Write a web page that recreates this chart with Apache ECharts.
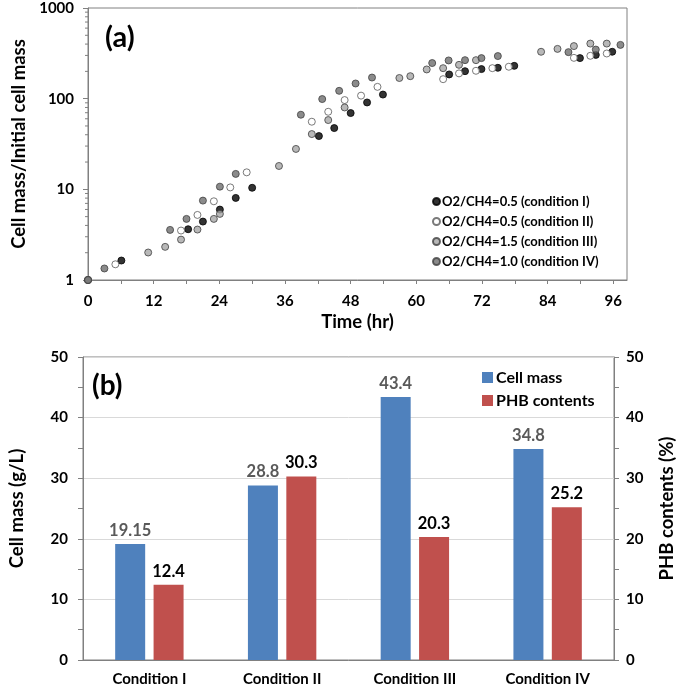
<!DOCTYPE html>
<html>
<head>
<meta charset="utf-8">
<script src="https://cdn.jsdelivr.net/npm/echarts@6/dist/echarts.min.js"></script>
<style>html,body{margin:0;padding:0;background:#fff}#c{width:685px;height:691px}</style>
</head>
<body>
<div id="c"></div>
<script>
// ---- (a) growth data: [time (hr), cell mass / initial cell mass] ----
const condI = [[0,1],[6.1,1.64],[18.3,3.63],[21.0,4.41],[24.1,5.98],[27.0,8.04],[30.0,10.4],[42.2,38.7],[45.0,47.4],[48.0,69.4],[51.0,90.8],[53.9,111],[66.0,185],[68.9,201],[71.9,212],[74.9,219],[77.9,230],[89.9,280],[92.8,304],[95.8,329]];
const condII = [[0,1],[5.0,1.49],[17.0,3.51],[20.0,5.22],[23.0,7.38],[26.0,10.5],[29.0,15.4],[40.9,55.7],[43.9,71.7],[46.9,96.5],[49.9,108],[52.9,135],[64.9,164],[67.8,190],[70.9,203],[73.9,217],[76.9,225],[88.8,282],[91.8,297],[94.8,315]];
const condIII = [[0,1],[11.0,2.01],[14.1,2.32],[17.0,2.79],[20.0,3.60],[23.0,4.72],[24.1,5.36],[34.9,18.1],[38.0,27.9],[40.9,40.7],[43.9,58.1],[46.9,80.0],[56.9,169],[58.9,177],[61.9,210],[64.9,217],[67.8,236],[70.9,266],[82.8,329],[85.8,354],[88.8,380],[91.8,405],[94.8,405]];
const condIV = [[0,1],[3.0,1.34],[15.0,3.57],[18.0,4.72],[21.0,7.51],[24.1,10.7],[27.0,14.8],[38.9,66.5],[42.8,99.0],[45.9,122],[48.9,147],[51.9,171],[62.9,247],[65.9,264],[68.9,266],[71.9,280],[74.9,295],[87.8,326],[92.8,348],[97.3,392]];
const seriesNamesA = ['O2/CH4=0.5 (condition I)','O2/CH4=0.5 (condition II)','O2/CH4=1.5 (condition III)','O2/CH4=1.0 (condition IV)'];
const logMinorTicks = [2,3,4,5,6,7,8,9,20,30,40,50,60,70,80,90,200,300,400,500,600,700,800,900];

// ---- (b) bar data ----
const conditions = ['Condition I','Condition II','Condition III','Condition IV'];
const cellMass = [19.15, 28.8, 43.4, 34.8];
const phbContents = [12.4, 30.3, 20.3, 25.2];

const FONT = 'Lato';
const AXC = '#808080';

const chart = echarts.init(document.getElementById('c'), null, {renderer:'canvas'});

function scatterSeries(name, data, color, border) {
  return {
    name, type:'scatter', data, xAxisIndex:0, yAxisIndex:0,
    symbol:'circle', symbolSize:7, clip:false,
    itemStyle:{color, borderColor:border, borderWidth:1},
    emphasis:{disabled:true}
  };
}

const tickFont = {fontFamily:FONT, fontSize:15, fontWeight:'bold', color:'#000'};
const nameFont = {fontFamily:FONT, fontSize:18.5, fontWeight:'bold', color:'#000'};

chart.setOption({
  animation:false,
  textStyle:{fontFamily:FONT},
  title:[
    {text:'(a)', left:100, top:18, textStyle:{fontFamily:FONT, fontSize:29, fontWeight:'bold', color:'#000'}},
    {text:'(b)', left:87, top:367, textStyle:{fontFamily:FONT, fontSize:28, fontWeight:'bold', color:'#000'}}
  ],
  legend:[
    {
      data:seriesNamesA, orient:'vertical', left:427, top:189,
      itemWidth:7, itemHeight:7, itemGap:5, icon:'circle',
      textStyle:{fontFamily:FONT, fontSize:13, fontWeight:'bold', color:'#000', lineHeight:15, padding:[0,0,0,-3]}
    },
    {
      data:['Cell mass','PHB contents'], orient:'vertical', left:477, top:364,
      itemWidth:11, itemHeight:11, itemGap:6, icon:'rect',
      textStyle:{fontFamily:FONT, fontSize:16, fontWeight:'bold', color:'#000', lineHeight:17, padding:[0,0,0,-2]}
    }
  ],
  grid:[
    {left:88, top:8, width:539, height:272, show:true, borderColor:AXC, borderWidth:1},
    {left:77, top:357, width:544, height:303, show:true, borderColor:AXC, borderWidth:1}
  ],
  xAxis:[
    {
      gridIndex:0, type:'value', min:0, max:98.5, interval:6,
      axisLine:{show:true, lineStyle:{color:AXC}},
      axisTick:{show:true, length:4, lineStyle:{color:AXC}},
      splitLine:{show:false},
      axisLabel:Object.assign({margin:14, showMaxLabel:false,
        formatter:v => (Math.abs(v % 12) < 1e-6 ? String(v) : '')}, tickFont),
      name:'Time (hr)', nameLocation:'middle', nameGap:33,
      nameTextStyle:nameFont
    },
    {
      gridIndex:1, type:'category', data:conditions,
      axisLine:{show:true, lineStyle:{color:AXC}},
      axisTick:{show:false},
      axisLabel:Object.assign({margin:12}, tickFont)
    }
  ],
  yAxis:[
    {
      gridIndex:0, type:'log', logBase:10, min:1, max:1000,
      axisLine:{show:true, lineStyle:{color:AXC}},
      axisTick:{show:true, length:5, lineStyle:{color:AXC}},
      splitLine:{show:false},
      axisLabel:Object.assign({margin:14, formatter:v => String(Math.round(v))}, tickFont),
      name:'Cell mass/Initial cell mass', nameLocation:'middle', nameGap:46,
      nameTextStyle:nameFont
    },
    {
      gridIndex:1, type:'value', min:0, max:50, interval:10, position:'left',
      axisLine:{show:true, lineStyle:{color:AXC}},
      axisTick:{show:true, length:5, lineStyle:{color:AXC}},
      minorTick:{show:true, splitNumber:2, length:5, lineStyle:{color:AXC}},
      splitLine:{show:true, lineStyle:{color:'#D9D9D9'}},
      axisLabel:Object.assign({margin:15}, tickFont),
      name:'Cell mass (g/L)', nameLocation:'middle', nameGap:56,
      nameTextStyle:nameFont
    },
    {
      gridIndex:1, type:'value', min:0, max:50, interval:10, position:'right',
      axisLine:{show:true, lineStyle:{color:AXC}},
      axisTick:{show:true, length:5, lineStyle:{color:AXC}},
      minorTick:{show:true, splitNumber:2, length:5, lineStyle:{color:AXC}},
      splitLine:{show:false},
      axisLabel:Object.assign({margin:12}, tickFont),
      name:'PHB contents (%)', nameLocation:'middle', nameGap:44,
      nameTextStyle:nameFont
    }
  ],
  series:[
    {
      type:'custom', xAxisIndex:0, yAxisIndex:0, silent:true, clip:false,
      data: logMinorTicks.map(v => [0, v]),
      renderItem:(params, api) => {
        const p = api.coord([0, api.value(1)]);
        return {type:'line', shape:{x1:p[0]-3, y1:p[1], x2:p[0]+1, y2:p[1]}, style:{stroke:AXC, lineWidth:1}};
      }
    },
    scatterSeries(seriesNamesA[0], condI, '#000000', '#000000'),
    scatterSeries(seriesNamesA[1], condII, '#FFFFFF', '#595959'),
    scatterSeries(seriesNamesA[2], condIII, '#A6A6A6', '#404040'),
    scatterSeries(seriesNamesA[3], condIV, '#6E6E6E', '#404040'),
    {
      name:'Cell mass', type:'bar', xAxisIndex:1, yAxisIndex:1, data:cellMass,
      barWidth:30, barGap:'28%',
      itemStyle:{color:'#4F81BD'},
      label:{show:true, position:'top', distance:5, fontFamily:FONT, fontSize:16.5, fontWeight:'bold', color:'#595959'}
    },
    {
      name:'PHB contents', type:'bar', xAxisIndex:1, yAxisIndex:2, data:phbContents,
      barWidth:30,
      itemStyle:{color:'#C0504D'},
      label:{show:true, position:'top', distance:5, fontFamily:FONT, fontSize:16.5, fontWeight:'bold', color:'#000'}
    }
  ]
});
</script>
</body>
</html>
